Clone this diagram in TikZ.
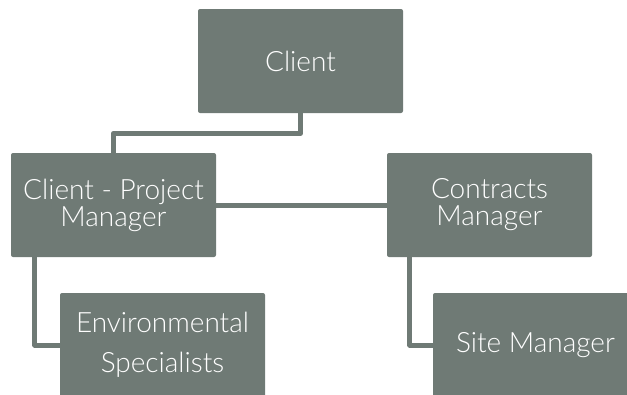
\documentclass[tikz,border=0pt]{standalone}
\usepackage{fontspec}
\setmainfont{Lato Light}
\usepackage{xcolor}
\usetikzlibrary{positioning}
\definecolor{boxgrey}{RGB}{111,122,117}
\tikzset{
  orgbox/.style={fill=boxgrey, rounded corners=2pt, minimum width=205pt,
    minimum height=104pt, inner sep=0pt, text=white, align=center,
    font=\fontsize{28}{27}\selectfont},
  link/.style={draw=boxgrey, line width=5pt, line join=round}
}

\begin{document}
\begin{tikzpicture}[x=1pt, y=-1pt]
        \useasboundingbox (0,0) rectangle (627,394);
        \clip (0,0) rectangle (627,394);
        \node[orgbox] (client) at (300.5,61) {Client};
        \node[orgbox] (cpm) at (113.5,205) {Client - Project\\Manager};
        \node[orgbox] (cm) at (489.5,205) {Contracts\\Manager};
        \node[orgbox, font=\fontsize{28}{40}\selectfont] (env) at (162.5,345) {Environmental\\Specialists};
        \node[orgbox] (site) at (535.5,345) {Site Manager};
        \draw[link] (client.south) -- ++(0,20) -| (cpm.north);
        \draw[link] (cpm.east) -- (cm.west);
        \draw[link] ([xshift=24pt]cpm.south west) |- (env.west);
        \draw[link] ([xshift=23pt]cm.south west) |- (site.west);
    \end{tikzpicture}
\end{document}
